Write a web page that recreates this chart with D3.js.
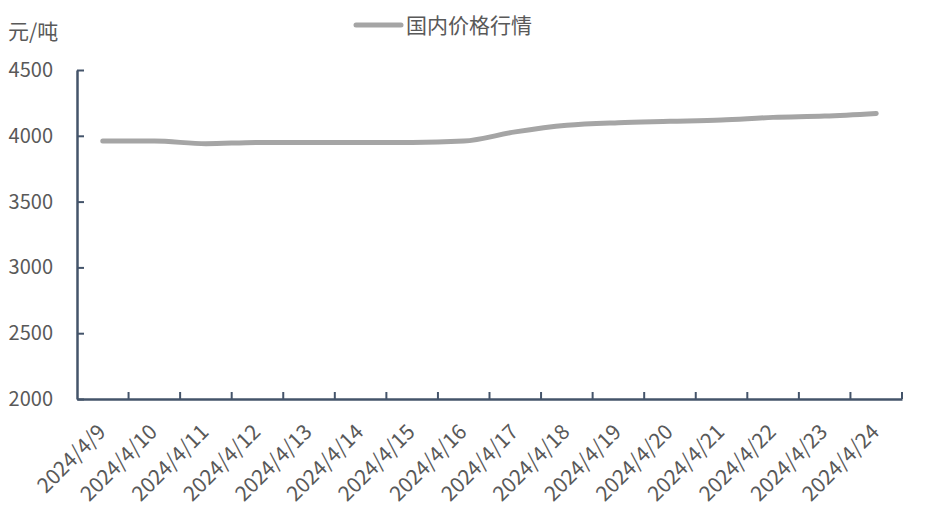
<!DOCTYPE html>
<html>
<head>
<meta charset="utf-8">
<script src="https://cdn.jsdelivr.net/npm/d3@7"></script>
<style>
  body { margin: 0; background: #fff; }
  text { font-family: "Noto Sans CJK SC", "Open Sans", sans-serif; fill: #595959; }
</style>
</head>
<body>
<div id="chart"></div>
<script>
// data
var dates = ["2024/4/9","2024/4/10","2024/4/11","2024/4/12","2024/4/13","2024/4/14","2024/4/15","2024/4/16",
             "2024/4/17","2024/4/18","2024/4/19","2024/4/20","2024/4/21","2024/4/22","2024/4/23","2024/4/24"];
var prices = [3960,3960,3940,3950,3950,3950,3950,3960,4030,4080,4100,4110,4120,4140,4150,4170];
var yTicks = [2000,2500,3000,3500,4000,4500];
var seriesName = "国内价格行情";
var unit = "元/吨";

var width = 940, height = 532;
var margin = {top: 70, right: 38, bottom: 133, left: 77};

var svg = d3.select("#chart").append("svg")
    .attr("width", width)
    .attr("height", height);

var x = d3.scaleBand()
    .domain(dates)
    .range([margin.left, width - margin.right]);

var y = d3.scaleLinear()
    .domain([2000, 4500])
    .range([height - margin.bottom, margin.top]);

// y axis, ticks point inward
var yAxis = svg.append("g")
    .attr("transform", `translate(${margin.left},0)`)
    .call(d3.axisLeft(y).tickValues(yTicks).tickFormat(d3.format("d"))
        .tickSizeInner(-7).tickSizeOuter(0).tickPadding(24));
yAxis.selectAll("text").style("font-size", "20px");

// x axis, ticks on the band edges pointing up
var xAxis = svg.append("g")
    .attr("transform", `translate(0,${height - margin.bottom})`)
    .call(d3.axisBottom(x).tickSize(0).tickFormat(""));
xAxis.selectAll(".tick").remove();
xAxis.selectAll(".edge")
    .data(dates)
    .enter().append("line")
    .attr("class", "edge")
    .attr("x1", d => x(d) + x.bandwidth())
    .attr("x2", d => x(d) + x.bandwidth())
    .attr("y1", 0).attr("y2", -7);

svg.selectAll(".domain, .tick line, .edge")
    .attr("stroke", "#44546a")
    .attr("stroke-width", 2);
yAxis.select(".domain").attr("stroke-width", 2.5);
xAxis.select(".domain").attr("stroke-width", 2.5);

// rotated date labels
svg.append("g").selectAll("text")
    .data(dates)
    .enter().append("text")
    .attr("transform", d => `translate(${x(d) + x.bandwidth() / 2 - 1},${height - margin.bottom + 29}) rotate(-45)`)
    .attr("text-anchor", "end")
    .attr("dy", "0.35em")
    .style("font-size", "21px")
    .text(d => d);

// price line
var line = d3.line()
    .x((d, i) => x(dates[i]) + x.bandwidth() / 2)
    .y(d => y(d))
    .curve(d3.curveMonotoneX);

svg.append("path")
    .datum(prices)
    .attr("fill", "none")
    .attr("stroke", "#a5a5a5")
    .attr("stroke-width", 5)
    .attr("stroke-linecap", "round")
    .attr("d", line);

// unit label
svg.append("text")
    .attr("x", 8).attr("y", 39)
    .style("font-size", "21px")
    .text(unit);

// legend
svg.append("line")
    .attr("x1", 356).attr("x2", 401)
    .attr("y1", 25).attr("y2", 25)
    .attr("stroke", "#a5a5a5")
    .attr("stroke-width", 5)
    .attr("stroke-linecap", "round");
svg.append("text")
    .attr("x", 406).attr("y", 33)
    .style("font-size", "21px")
    .text(seriesName);
</script>
</body>
</html>
